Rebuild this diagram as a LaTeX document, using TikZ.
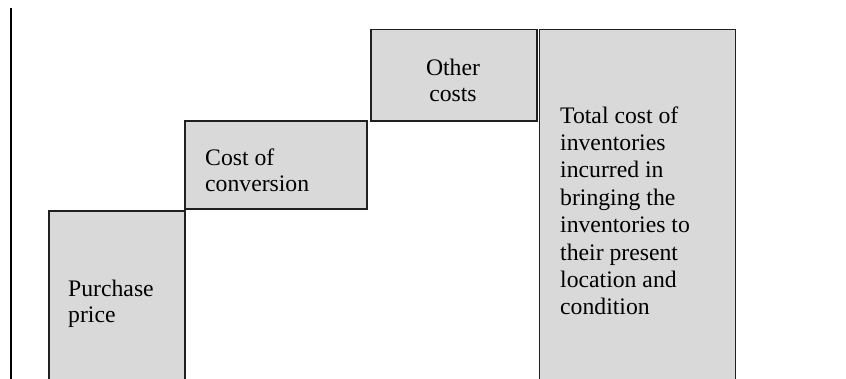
\documentclass[tikz,border=0pt]{standalone}
\usepackage{fontspec}
\setmainfont{Liberation Serif}
\definecolor{boxgray}{HTML}{D9D9D9}
\definecolor{edge}{HTML}{202020}
\tikzset{
  costbox/.style={draw=edge, fill=boxgray, line width=1.2pt, inner sep=0pt},
  label/.style={inner sep=0pt, font=\fontsize{23.7}{26.5}\selectfont, anchor=base west, align=left},
}
\begin{document}
\begin{tikzpicture}[x=1pt,y=-1pt]
\useasboundingbox (0,0) rectangle (846,379);
\clip (0,0) rectangle (846,379);
\draw[line width=2pt] (11,8) coordinate (ltop) -- (11,379) coordinate (lbot);
\draw[costbox] (49,211) rectangle (185,390);
\draw[costbox] (185,121) rectangle (367,209);
\draw[costbox] (371,29.5) rectangle (537,121);
\draw[costbox] (539.5,29.5) rectangle (735.5,390);
\node[label] (pp) at (68,323) {Purchase\\price};
\node[label] (cc) at (205,192) {Cost of\\conversion};
\node[label, align=center, anchor=base] (oc) at (453,102) {Other\\costs};
\node[label, font=\fontsize{23.7}{27.4}\selectfont] (tc) at (560,315) {Total cost of\\inventories\\incurred in\\bringing the\\inventories to\\their present\\location and\\condition};
\end{tikzpicture}
\end{document}
